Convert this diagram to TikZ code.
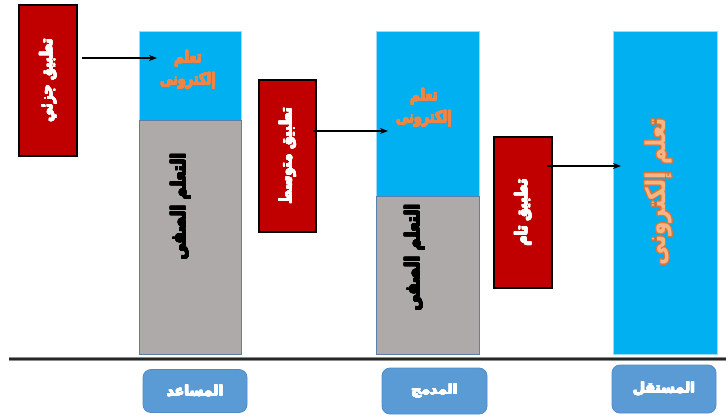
\documentclass[tikz,border=0pt]{standalone}
\usepackage{fontspec}
\TeXXeTstate=1
\newfontfamily\arabicfont[Script=Arabic, BoldFont={DejaVu Sans Bold}]{DejaVu Sans}
\newfontfamily\arabiccond[Script=Arabic, FakeStretch=0.8, BoldFont={DejaVu Sans Bold}, BoldFeatures={FakeStretch=0.8}]{DejaVu Sans}
\usepackage{contour}
\contourlength{0.4pt}
\usetikzlibrary{arrows.meta}
\definecolor{appred}{HTML}{C00000}
\definecolor{colblue}{HTML}{00B0F0}
\definecolor{colgray}{HTML}{AEAAAA}
\definecolor{grayedge}{HTML}{5A7FA8}
\definecolor{lightedge}{HTML}{9ADCF5}
\definecolor{orangetext}{HTML}{EE8545}
\definecolor{peach}{HTML}{F6B587}
\definecolor{darkorange}{HTML}{E27434}
\definecolor{labelblue}{HTML}{5B9BD5}
\definecolor{labeledge}{HTML}{4E8BC6}
\begin{document}
\begin{tikzpicture}[x=1pt,y=-1pt,
  redbox/.style={draw=black, line width=1.3pt, fill=appred, inner sep=0pt, rotate=90,
    text=white, font=\arabiccond\bfseries\fontsize{17}{19}\selectfont},
  bluepart/.style={draw=lightedge, line width=0.6pt, fill=colblue, inner sep=0pt},
  graypart/.style={draw=grayedge, line width=0.8pt, fill=colgray, inner sep=0pt},
  orangetxt/.style={text=orangetext, align=center, inner sep=0pt,
    font=\arabiccond\bfseries\fontsize{16}{22}\selectfont},
  graytxt/.style={text=black, rotate=90, inner sep=0pt,
    font=\arabiccond\bfseries\fontsize{20}{22}\selectfont},
  bigtxt/.style={text=peach, rotate=90, inner sep=0pt,
    font=\arabiccond\bfseries\fontsize{27}{30}\selectfont},
  lblbox/.style={draw=labeledge, line width=0.8pt, fill=labelblue, rounded corners=8pt,
    text=white, inner sep=0pt, font=\arabicfont\bfseries\fontsize{14}{16}\selectfont},
  arr/.style={-{Stealth[length=8pt,width=6pt]}, line width=1.4pt, black}
]
\useasboundingbox (0,0) rectangle (726,416);
\fill[white] (0,0) rectangle (726,416);

% columns
\node[bluepart, minimum width=102pt, minimum height=89pt] (c1top) at (190,75.5) {};
\node[graypart, minimum width=102pt, minimum height=234pt] (c1bot) at (190,237) {};
\node[bluepart, minimum width=103pt, minimum height=165pt] (c2top) at (427.5,113.5) {};
\node[graypart, minimum width=103pt, minimum height=158pt] (c2bot) at (427.5,275) {};
\node[bluepart, minimum width=104pt, minimum height=323pt] (c3) at (665,192.5) {};

% column texts
\node[orangetxt] (t1) at (188,70) {\contour{orangetext}{\beginR تعلم\endR}\\\contour{orangetext}{\beginR إلكترونى\endR}};
\node[orangetxt] (t2) at (424,108) {\contour{orangetext}{\beginR تعلم\endR}\\\contour{orangetext}{\beginR إلكترونى\endR}};
\node[graytxt] (g1) at (181,207) {\contour{black}{\beginR التعلم الصفى\endR}};
\node[graytxt] (g2) at (415,258) {\contour{black}{\beginR التعلم الصفى\endR}};
\node[bigtxt] (big) at (659,192) {\contourlength{0.9pt}\contour{darkorange}{\beginR تعلم إلكترونى\endR}};

% red boxes
\node[redbox, minimum width=151pt, minimum height=58pt] (r1) at (48,80.5) {\contour{white}{\beginR تطبيق جزئي\endR}};
\node[redbox, minimum width=152pt, minimum height=57pt] (r2) at (287.5,156) {\contour{white}{\beginR تطبيق متوسط\endR}};
\node[redbox, minimum width=151pt, minimum height=58pt] (r3) at (523,212.5) {\contour{white}{\beginR تطبيق تام\endR}};

% arrows
\coordinate (a1s) at (82,58);
\coordinate (a1e) at (157,58);
\coordinate (a2s) at (313,131);
\coordinate (a2e) at (388,131);
\coordinate (a3s) at (547,166);
\coordinate (a3e) at (621,166);
\draw[arr] (a1s) -- (a1e);
\draw[arr] (a2s) -- (a2e);
\draw[arr] (a3s) -- (a3e);

% base line
\coordinate (bl) at (9,359);
\coordinate (br) at (726,359);
\draw[line width=4.5pt, black!45] (bl) -- (br);
\draw[line width=2pt, black!85] (bl) -- (br);

% labels
\node[lblbox, minimum width=104pt, minimum height=43pt] (b1) at (195,391) {\contour{white}{\beginR المساعد\endR}};
\node[lblbox, minimum width=105pt, minimum height=46pt] (b2) at (434.5,391) {\contour{white}{\beginR المدمج\endR}};
\node[lblbox, minimum width=104pt, minimum height=48pt] (b3) at (664,389) {\contour{white}{\beginR المستقل\endR}};
\end{tikzpicture}
\end{document}
